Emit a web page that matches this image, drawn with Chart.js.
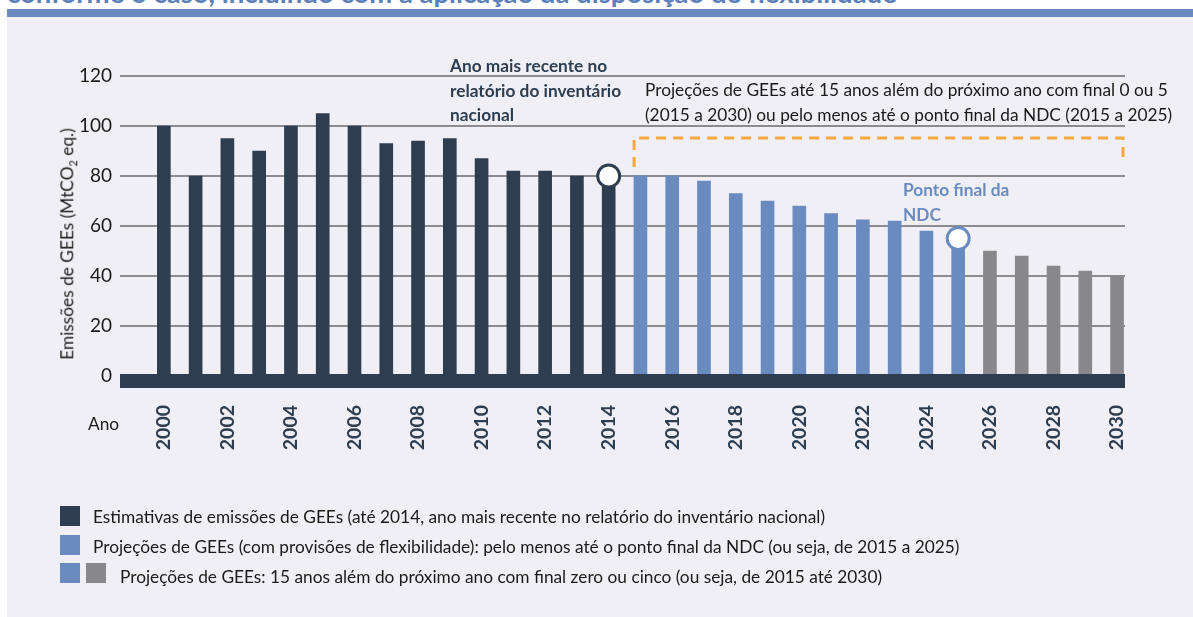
<!DOCTYPE html>
<html>
<head>
<meta charset="utf-8">
<script src="https://cdn.jsdelivr.net/npm/chart.js@4.4.1/dist/chart.umd.min.js"></script>
<style>
  html, body { margin: 0; padding: 0; width: 1193px; height: 617px; overflow: hidden; background: #ffffff; font-family: Lato, "Open Sans", sans-serif; }
  #title { position: absolute; left: 7px; top: -24px; font: bold 27.5px Lato, sans-serif; line-height: 34px; color: #5b7fb9; white-space: nowrap; }
  #strip { position: absolute; left: 7px; top: 9px; width: 1186px; height: 8px; background: #6a8bbf; }
  #panel { position: absolute; left: 7px; top: 17px; width: 1186px; height: 600px; background: #f0eff5; }
  #wrap { position: absolute; left: 0; top: 0; width: 1193px; height: 617px; }
  .txt { position: absolute; white-space: nowrap; font-size: 17.3px; line-height: 24.5px; color: #1a1a1a; }
  .bold { font-weight: bold; }
  #ytitle { position: absolute; left: 68px; top: 244px; transform: translate(-50%, -50%) rotate(-90deg); white-space: nowrap; font-size: 17.3px; color: #1a1a1a; }
  #ytitle sub { font-size: 11px; }
  .sq { position: absolute; width: 20px; height: 20px; }
  .leg { position: absolute; white-space: nowrap; font-size: 17.3px; color: #1a1a1a; line-height: 20px; }
</style>
</head>
<body>
<div id="title">conforme o caso, incluindo com a aplicação da disposição de flexibilidade</div>
<div id="strip"></div>
<div id="panel"></div>
<div id="wrap"><canvas id="c" width="1193" height="617"></canvas></div>

<div class="txt bold" style="left:450px; top:54px; color:#2e3e50;">Ano mais recente no<br>relatório do inventário<br>nacional</div>
<div class="txt" style="left:645px; top:78px;">Projeções de GEEs até 15 anos além do próximo ano com final 0 ou 5<br>(2015 a 2030) ou pelo menos até o ponto final da NDC (2015 a 2025)</div>
<div class="txt bold" style="left:903px; top:178px; color:#6a8bbf;">Ponto final da<br>NDC</div>
<div id="ytitle">Emissões de GEEs (MtCO<sub>2</sub> eq.)</div>
<div class="txt" style="left:88px; top:412px;">Ano</div>

<div class="sq" style="left:60px; top:506px; background:#2e3e50;"></div>
<div class="leg" style="left:93px; top:507px;">Estimativas de emissões de GEEs (até 2014, ano mais recente no relatório do inventário nacional)</div>
<div class="sq" style="left:60px; top:535px; background:#6a8bbf;"></div>
<div class="leg" style="left:93px; top:537px;">Projeções de GEEs (com provisões de flexibilidade): pelo menos até o ponto final da NDC (ou seja, de 2015 a 2025)</div>
<div class="sq" style="left:60px; top:563px; background:#6a8bbf;"></div>
<div class="sq" style="left:86px; top:563px; background:#88888c;"></div>
<div class="leg" style="left:120px; top:567px;">Projeções de GEEs: 15 anos além do próximo ano com final zero ou cinco (ou seja, de 2015 até 2030)</div>

<script>
// ---- data ----
const histYears  = [2000,2001,2002,2003,2004,2005,2006,2007,2008,2009,2010,2011,2012,2013,2014];
const histValues = [100,80,95,90,100,105,100,93,94,95,87,82,82,80,80];
const ndcYears   = [2015,2016,2017,2018,2019,2020,2021,2022,2023,2024,2025];
const ndcValues  = [80,80,78,73,70,68,65,62.5,62,58,55];
const extYears   = [2026,2027,2028,2029,2030];
const extValues  = [50,48,44,42,40];
const xTickYears = [2000,2002,2004,2006,2008,2010,2012,2014,2016,2018,2020,2022,2024,2026,2028,2030];
const yTickValues = [0,20,40,60,80,100,120];
const inventoryMarker = [{ x: 2014, y: 80 }];
const ndcMarker = [{ x: 2025, y: 55 }];

// ---- styles ----
const DARK = '#2e3e50', BLUE = '#6a8bbf', GRAY = '#88888c', ORANGE = '#f5a940';
const bracket = { fromYear: 2014.8, toYear: 2030.2, top: 95.2, leftBottom: 83.6, rightBottom: 86.4 };

const pts = (xs, ys) => xs.map((x, i) => ({ x: x, y: ys[i] }));

const overlay = {
  id: 'overlay',
  afterDatasetsDraw(chart) {
    const { ctx, chartArea, scales } = chart;
    const y0 = scales.y.getPixelForValue(0);
    ctx.save();
    ctx.fillStyle = DARK;
    ctx.fillRect(chartArea.left, y0 - 2, chartArea.right - chartArea.left, 14);
    const xl = scales.x.getPixelForValue(bracket.fromYear);
    const xr = Math.min(scales.x.getPixelForValue(bracket.toYear), chartArea.right - 2);
    ctx.strokeStyle = ORANGE;
    ctx.lineWidth = 3;
    ctx.setLineDash([10, 7]);
    ctx.beginPath();
    ctx.moveTo(xl, scales.y.getPixelForValue(bracket.leftBottom));
    ctx.lineTo(xl, scales.y.getPixelForValue(bracket.top));
    ctx.lineTo(xr, scales.y.getPixelForValue(bracket.top));
    ctx.lineTo(xr, scales.y.getPixelForValue(bracket.rightBottom));
    ctx.stroke();
    ctx.restore();
  }
};

const barDs = (label, data, color) => ({
  type: 'bar', label, data, backgroundColor: color, barThickness: 13, grouped: false, order: 2
});
const markerDs = (label, data, color) => ({
  type: 'line', label, data, showLine: false, pointRadius: 11, pointHoverRadius: 11,
  pointBorderWidth: 3, pointBackgroundColor: '#ffffff', pointBorderColor: color, order: 0
});

new Chart(document.getElementById('c'), {
  data: {
    datasets: [
      barDs('Estimativas', pts(histYears, histValues), DARK),
      barDs('Projeções NDC', pts(ndcYears, ndcValues), BLUE),
      barDs('Projeções 15 anos', pts(extYears, extValues), GRAY),
      markerDs('Ano mais recente', inventoryMarker, DARK),
      markerDs('Ponto final da NDC', ndcMarker, BLUE)
    ]
  },
  options: {
    responsive: false,
    animation: false,
    events: [],
    layout: { padding: { left: 0, top: 76, right: 68, bottom: 141 } },
    plugins: { legend: { display: false }, tooltip: { enabled: false } },
    scales: {
      x: {
        type: 'linear',
        offset: false,
        min: 1998.62,
        max: 2030.25,
        afterBuildTicks: s => { s.ticks = xTickYears.map(v => ({ value: v })); },
        afterFit: s => { s.height = 100; },
        grid: { display: false, offset: false },
        border: { display: false },
        ticks: {
          autoSkip: false, minRotation: 90, maxRotation: 90, padding: 21,
          color: DARK, font: { family: 'Lato', size: 19.5, weight: 'bold' },
          callback: v => String(v)
        }
      },
      y: {
        min: 0, max: 120,
        afterBuildTicks: s => { s.ticks = yTickValues.map(v => ({ value: v })); },
        afterFit: s => { s.width = 120; },
        grid: { color: '#8b8b90', lineWidth: 2, drawTicks: false },
        border: { display: false },
        ticks: { padding: 8, color: '#1a1a1a', font: { family: 'Lato', size: 19 } }
      }
    }
  },
  plugins: [overlay]
});
</script>
</body>
</html>
